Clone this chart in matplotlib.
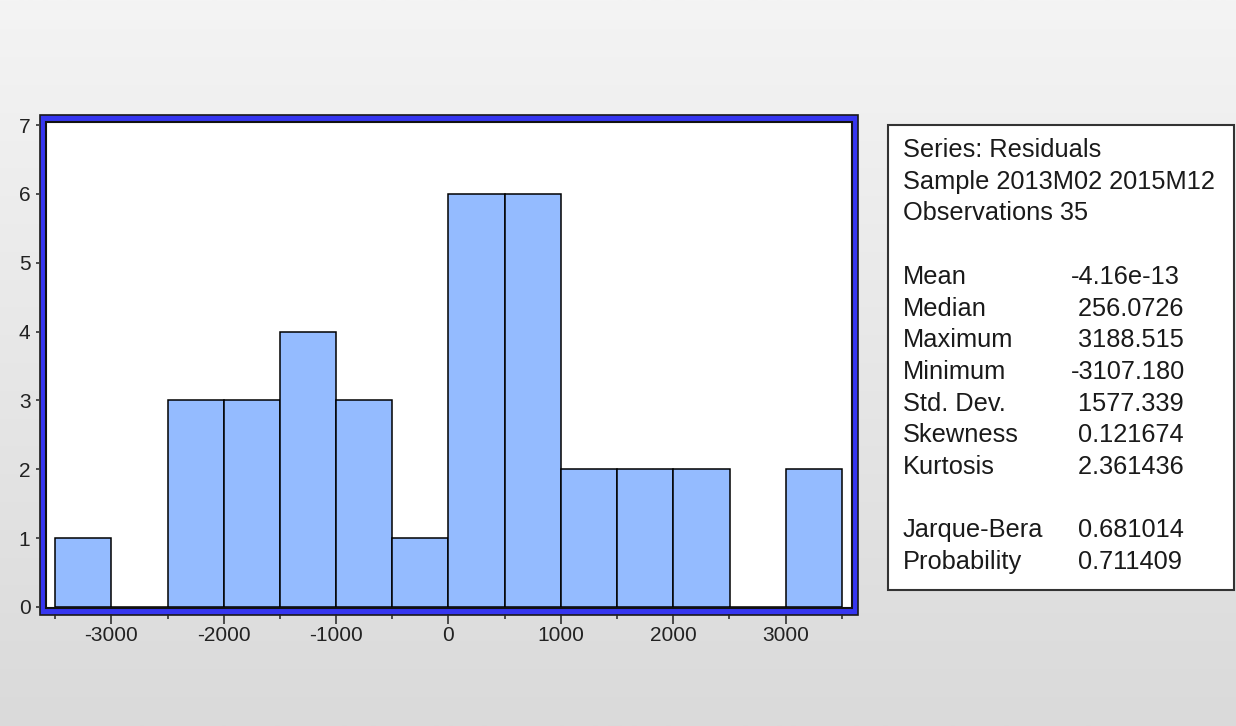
import numpy as np
import matplotlib.pyplot as plt
from matplotlib.patches import Rectangle
from matplotlib.colors import LinearSegmentedColormap

W, H = 1236, 726

# histogram of residuals (bin width 500)
bin_edges = np.arange(-3500, 3501, 500)
counts = [1, 0, 3, 3, 4, 3, 1, 6, 6, 2, 2, 2, 0, 2]
x_major = [-3000, -2000, -1000, 0, 1000, 2000, 3000]
y_ticks = [0, 1, 2, 3, 4, 5, 6, 7]

# statistics panel
header = ['Series: Residuals', 'Sample 2013M02 2015M12', 'Observations 35']
stat_names = ['Mean', 'Median', 'Maximum', 'Minimum', 'Std. Dev.', 'Skewness', 'Kurtosis']
stat_values = ['-4.16e-13', '256.0726', '3188.515', '-3107.180', '1577.339', '0.121674', '2.361436']
test_names = ['Jarque-Bera', 'Probability']
test_values = ['0.681014', '0.711409']


def fx(px):
    return px / W


def fy(py):
    return 1 - py / H


plt.rcParams['font.family'] = ['Liberation Sans', 'DejaVu Sans']
fig = plt.figure(figsize=(W / 100, H / 100), dpi=100)

# grey gradient background
bg = fig.add_axes([0, 0, 1, 1], zorder=-10)
grad = np.linspace(0, 1, 256).reshape(-1, 1)
cmap = LinearSegmentedColormap.from_list('bg', ['#f4f4f4', '#dadada'])
bg.imshow(grad, aspect='auto', cmap=cmap, extent=[0, 1, 0, 1])
bg.axis('off')

# blue frame around the plot area
fig.patches.append(Rectangle((fx(39.5), fy(614.5)), fx(818.5), 499.5 / H,
                             transform=fig.transFigure, facecolor='#3636f0',
                             edgecolor='#1a1a1a', lw=1.2, zorder=-5))

ax = fig.add_axes([fx(46), fy(608), fx(806), 486 / H], zorder=0)
ax.set_facecolor('white')
ax.bar(bin_edges[:-1], counts, width=500, align='edge',
       color='#94bbff', edgecolor='black', lw=1.1)

ax.set_xlim((46 - 448.5) / 0.1124, (852 - 448.5) / 0.1124)
ax.set_ylim(-1 / 68.7, (606 - 122) / 68.7)

for s in ax.spines.values():
    s.set_visible(False)
ax.spines['left'].set_position(('outward', 5))
ax.spines['bottom'].set_position(('outward', 4.3))

ax.set_xticks(x_major)
ax.set_xticklabels([str(v) for v in x_major])
ax.set_xticks(bin_edges, minor=True)
ax.set_yticks(y_ticks)
ax.tick_params(axis='y', direction='out', length=2.2, width=1.1, pad=4,
               labelsize=15, colors='#222222')
ax.tick_params(axis='x', which='major', direction='out', length=7.2, width=1.1,
               pad=1.5, labelsize=15, colors='#222222')
ax.tick_params(axis='x', which='minor', direction='out', length=3.6, width=1.1,
               colors='#222222')
ax.add_patch(Rectangle((0, 0), 1, 1, transform=ax.transAxes, fill=False,
                       edgecolor='#111111', lw=1.5, clip_on=False, zorder=5))

# statistics box
fig.patches.append(Rectangle((fx(888), fy(590)), fx(346), 465 / H,
                             transform=fig.transFigure, facecolor='white',
                             edgecolor='#333333', lw=1.5, zorder=1))

rows = []
for t in header:
    rows.append((t, None))
rows.append((None, None))
for n, v in zip(stat_names, stat_values):
    rows.append((n, v))
rows.append((None, None))
for n, v in zip(test_names, test_values):
    rows.append((n, v))

for i, (name, val) in enumerate(rows):
    y = 150 + 31.7 * i
    if name:
        fig.text(fx(903), fy(y), name, va='center', ha='left',
                 fontsize=18.3, color='#1a1a1a', zorder=2)
    if val:
        s = val if val.startswith('-') else ' ' + val
        fig.text(fx(1071), fy(y), s, va='center', ha='left',
                 fontsize=18.3, color='#1a1a1a', zorder=2)

fig.savefig('out.png', dpi=100)
